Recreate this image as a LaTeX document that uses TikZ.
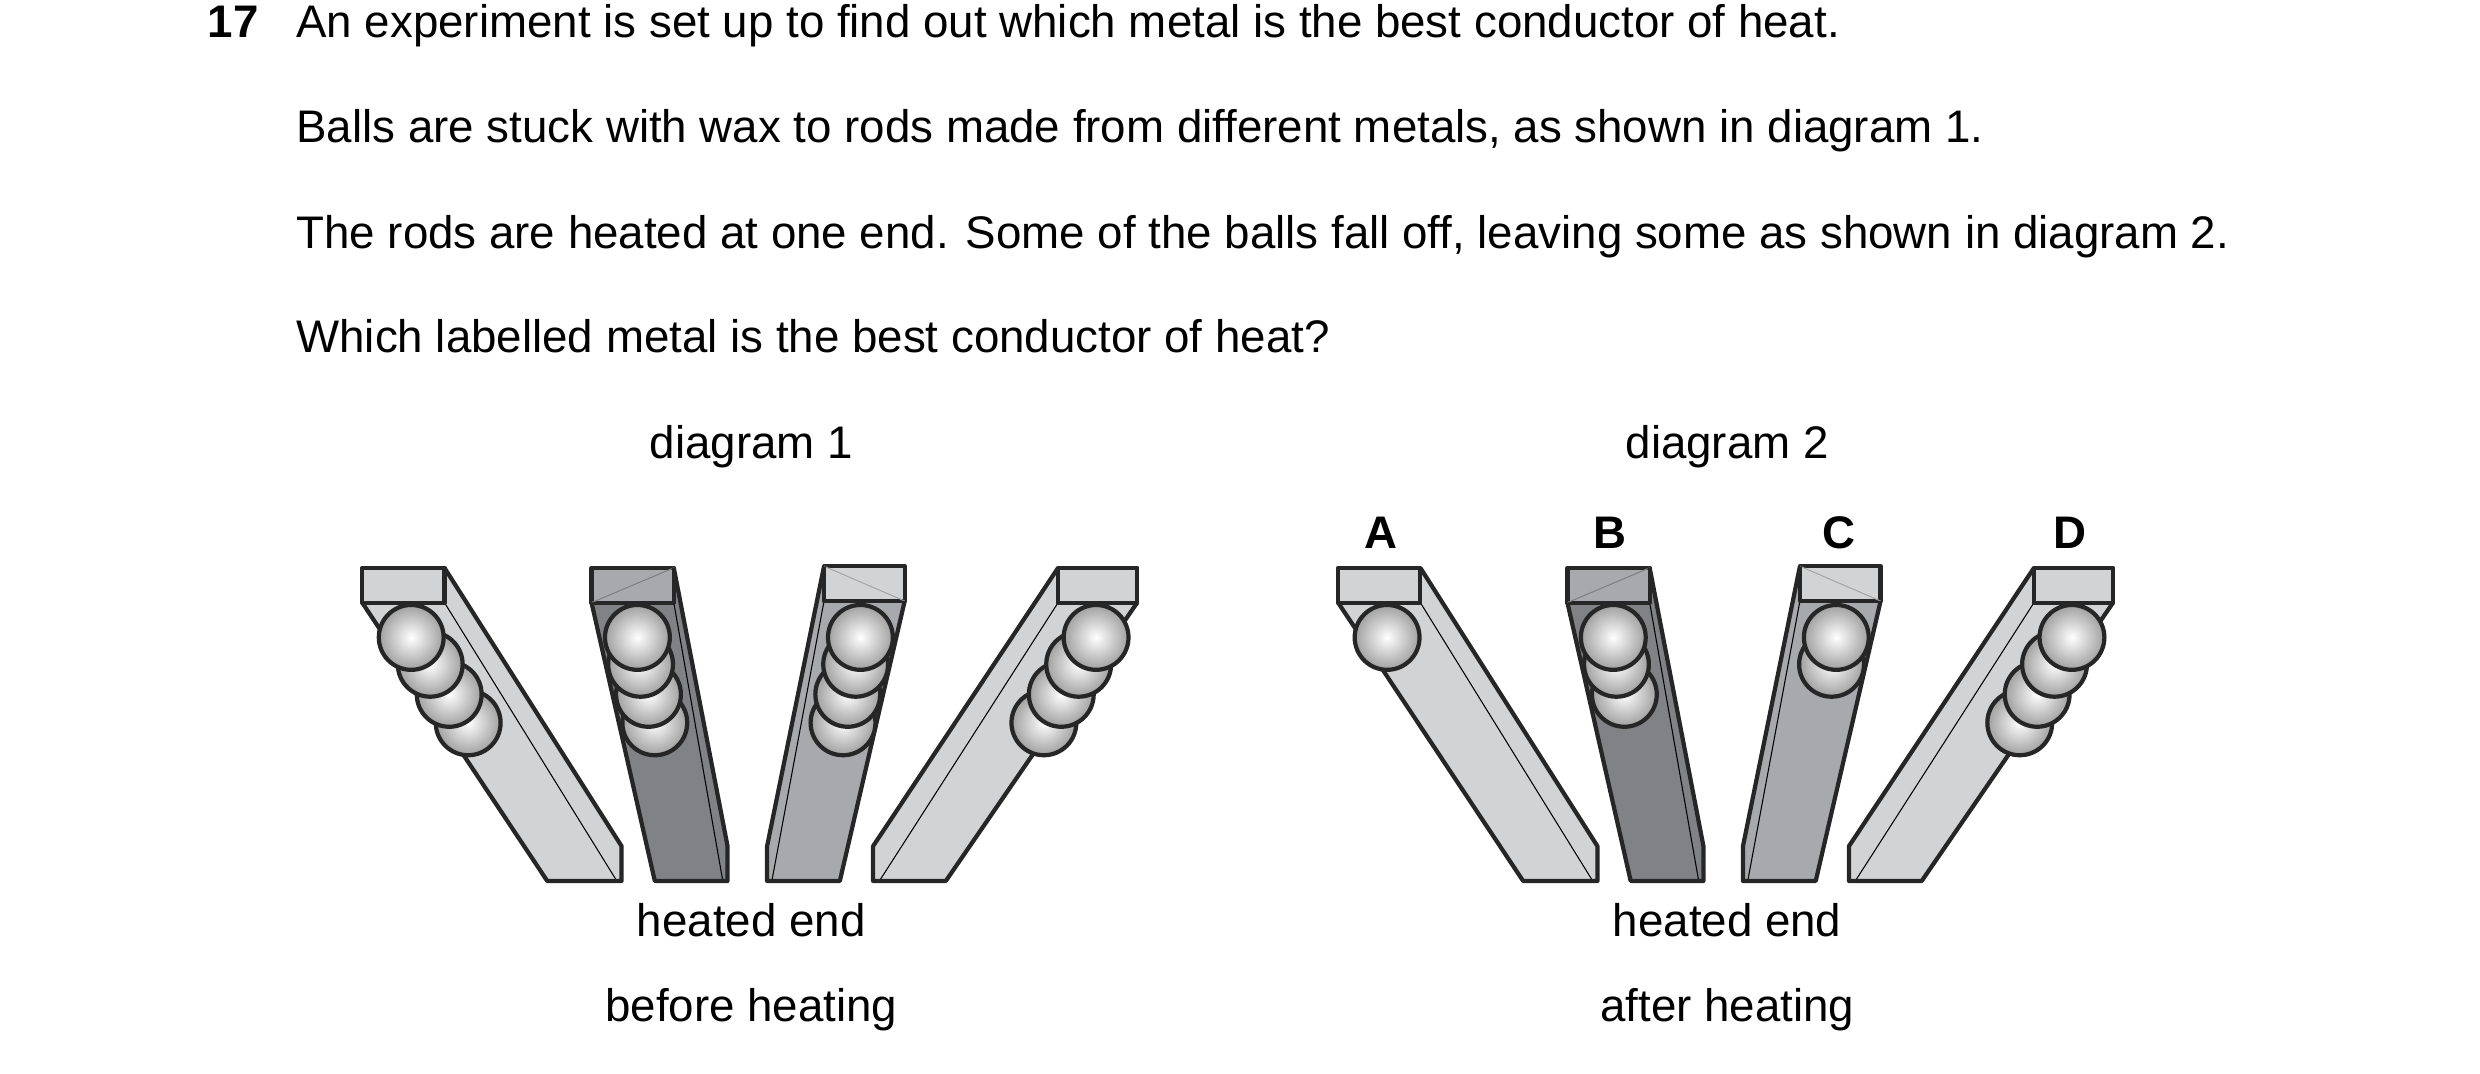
\documentclass[tikz,border=0pt]{standalone}
\usepackage{fontspec}
\setmainfont{Liberation Sans}
\definecolor{RodLight}{RGB}{209, 211, 212}
\definecolor{RodMid}{RGB}{167, 169, 172}
\definecolor{RodDark}{RGB}{128, 130, 133}
\usepackage{tikz}
\usetikzlibrary{positioning, calc}

\begin{document}
\begin{tikzpicture}[x=0.015816cm, y=-0.015816cm, line join=round,
    txt/.style={anchor=base west, font=\fontsize{13}{15}\selectfont, inner sep=0pt},
    captxt/.style={anchor=base, font=\fontsize{13}{15}\selectfont, inner sep=0pt},
    lbl/.style={anchor=base, font=\fontsize{13}{15}\selectfont\bfseries, inner sep=0pt},
    face/.style={draw=black!85, line width=1.2pt},
    edge/.style={draw=black, line width=0.3pt},
    ball/.style={draw=black!85, line width=1.2pt, inner color=white, outer color=gray!75}]
        \useasboundingbox (0,0) rectangle (1568,679);

        % Question text
        \node[txt, font=\fontsize{13}{15}\selectfont\bfseries] (qnum) at (131,24) {17};
        \node[txt] (line1) at (187,24) {An experiment is set up to find out which metal is the best conductor of heat.};
        \node[txt] (line2) at (187,90) {Balls are stuck with wax to rods made from different metals, as shown in diagram 1.};
        \node[txt] (line3) at (187,157) {The rods are heated at one end. Some of the balls fall off, leaving some as shown in diagram 2.};
        \node[txt] (line4) at (187,223) {Which labelled metal is the best conductor of heat?};

        % Rods, the same in both diagrams
        \foreach \dx in {0,617} {
            \begin{scope}[xshift=\dx*0.015816cm]
                % rod 1
                \fill[RodLight] (229,381) -- (281,381) -- (390,557) -- (346,557) -- cycle;
                \fill[RodLight] (281,359) -- (393,535) -- (393,557) -- (390,557) -- (281,381) -- cycle;
                \draw[edge] (281,381) -- (390,557);
                \draw[face, fill=RodLight] (229,359) rectangle (281,381);
                \draw[face] (229,381) -- (346,557) -- (393,557) -- (393,535) -- (281,359);
                % rod 2
                \fill[RodDark] (374,381) -- (426,381) -- (457,557) -- (414,557) -- cycle;
                \fill[RodDark] (426,359) -- (460,535) -- (460,557) -- (457,557) -- (426,381) -- cycle;
                \draw[edge] (426,381) -- (457,557);
                \draw[face, fill=RodMid] (374,359) rectangle (426,381);
                \draw[edge, draw=gray] (374,381) -- (426,359);
                \draw[face] (374,381) -- (414,557) -- (460,557) -- (460,535) -- (426,359);
                % rod 3
                \fill[RodMid] (521,380) -- (572,380) -- (531,557) -- (488,557) -- cycle;
                \fill[RodMid] (521,358) -- (485,535) -- (485,557) -- (488,557) -- (521,380) -- cycle;
                \draw[edge] (521,380) -- (488,557);
                \draw[face, fill=RodLight] (521,358) rectangle (572,380);
                \draw[edge, draw=gray!70] (521,358) -- (572,380);
                \draw[face] (572,380) -- (531,557) -- (485,557) -- (485,535) -- (521,358);
                % rod 4
                \fill[RodLight] (669,381) -- (719,381) -- (598,557) -- (556,557) -- cycle;
                \fill[RodLight] (669,359) -- (552,535) -- (552,557) -- (556,557) -- (669,381) -- cycle;
                \draw[edge] (669,381) -- (556,557);
                \draw[face, fill=RodLight] (669,359) rectangle (719,381);
                \draw[face] (719,381) -- (598,557) -- (552,557) -- (552,535) -- (669,359);
            \end{scope}
        }

        % Balls before heating
        \foreach \x/\y in {296/457, 284/439, 272/420, 260/403,
                           414/457, 410/439, 405/420, 403/403,
                           533/457, 536/439, 541/420, 544/403,
                           660/457, 671/439, 682/420, 693/403}
            \shadedraw[ball] (\x,\y) circle[radius=20.5];

        % Balls after heating
        \foreach \x/\y in {877/403,
                           1027/439, 1022/420, 1020/403,
                           1158/420, 1161/403,
                           1277/457, 1288/439, 1299/420, 1310/403}
            \shadedraw[ball] (\x,\y) circle[radius=20.5];

        % Labels
        \node[captxt] (diag1) at (475,290) {diagram 1};
        \node[captxt] (diag2) at (1092,290) {diagram 2};
        \node[lbl] (labA) at (873,347) {A};
        \node[lbl] (labB) at (1018,347) {B};
        \node[lbl] (labC) at (1163,347) {C};
        \node[lbl] (labD) at (1309,347) {D};
        \node[captxt] (heat1) at (475,592) {heated end};
        \node[captxt] (heat2) at (1092,592) {heated end};
        \node[captxt] (before) at (475,646) {before heating};
        \node[captxt] (after) at (1092,646) {after heating};
    \end{tikzpicture}
\end{document}
